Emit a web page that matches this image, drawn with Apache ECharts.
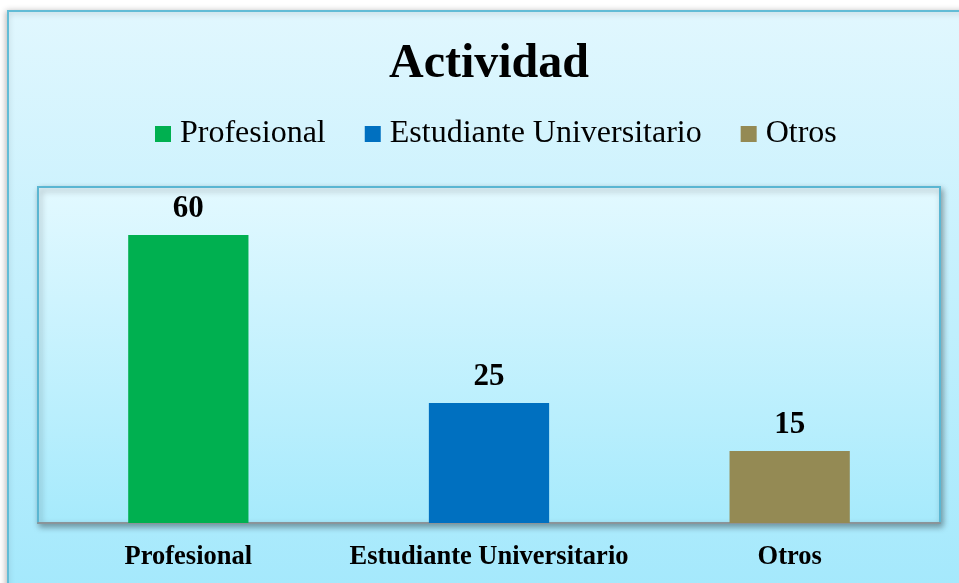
<!DOCTYPE html>
<html>
<head>
<meta charset="utf-8">
<script src="https://cdn.jsdelivr.net/npm/echarts@6/dist/echarts.min.js"></script>
<style>html,body{margin:0;padding:0;background:#fff;}#c{width:959px;height:583px;}</style>
</head>
<body>
<div id="c"></div>
<script>
const titleText = 'Actividad';
const categories = ['Profesional', 'Estudiante Universitario', 'Otros'];
const values = [60, 25, 15];
const palette = ['#00B050', '#0070C0', '#948A54'];

const FONT = '"Liberation Serif", "Times New Roman", serif';
const chart = echarts.init(document.getElementById('c'), null, {renderer: 'canvas'});

const series = categories.map((name, i) => ({
  name: name,
  type: 'bar',
  stack: 'all',
  barWidth: '40%',
  itemStyle: {color: palette[i]},
  label: {
    show: true, position: 'top', distance: 11,
    fontFamily: FONT, fontWeight: 'bold', fontSize: 31, color: '#000'
  },
  data: categories.map((c, j) => (j === i ? values[i] : '-'))
}));

chart.setOption({
  backgroundColor: '#ffffff',
  animation: false,
  graphic: [{
    type: 'rect', z: -10, silent: true,
    shape: {x: 8, y: 11, width: 970, height: 600},
    style: {
      fill: new echarts.graphic.LinearGradient(0, 0, 0, 1, [
        {offset: 0, color: '#e1f7fe'},
        {offset: 1, color: '#a2e8fc'}
      ]),
      stroke: '#62bcd6', lineWidth: 2,
      shadowBlur: 6, shadowColor: 'rgba(0,0,0,0.25)', shadowOffsetX: -1, shadowOffsetY: 1
    }
  }],
  title: {
    text: titleText, left: 484, top: 36, textAlign: 'center',
    textStyle: {fontFamily: FONT, fontWeight: 'bold', fontSize: 48, color: '#000'}
  },
  legend: {
    left: 150, top: 113, itemWidth: 16, itemHeight: 16, itemGap: 39,
    icon: 'rect',
    data: categories,
    textStyle: {fontFamily: FONT, fontSize: 32, color: '#000', padding: [0, 0, 0, 4]}
  },
  grid: {
    left: 38, top: 187, right: 19, bottom: 60,
    show: true,
    borderColor: '#5ab6d2', borderWidth: 2,
    backgroundColor: new echarts.graphic.LinearGradient(0, 0, 0, 1, [
      {offset: 0, color: '#e3f9ff'},
      {offset: 1, color: '#a6eafc'}
    ]),
    shadowBlur: 6, shadowColor: 'rgba(0,0,0,0.35)', shadowOffsetX: 2, shadowOffsetY: 3
  },
  xAxis: {
    type: 'category', data: categories,
    axisLine: {show: true, lineStyle: {color: '#8a9499', width: 2}},
    axisTick: {show: false},
    axisLabel: {interval: 0, fontFamily: FONT, fontWeight: 'bold', fontSize: 26.5, color: '#000', margin: 21}
  },
  yAxis: {
    type: 'value', min: 0, max: 70, interval: 10, show: false,
    splitLine: {show: false}
  },
  series: series
});
</script>
</body>
</html>
